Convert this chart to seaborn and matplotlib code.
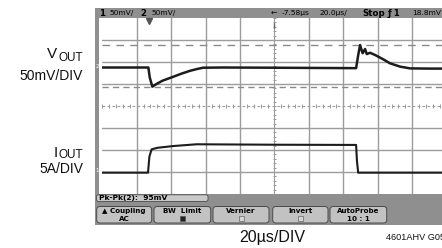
import numpy as np
import pandas as pd
import matplotlib
matplotlib.use("Agg")
import matplotlib.pyplot as plt
from matplotlib.patches import Rectangle, FancyBboxPatch
import seaborn as sns

# ---------------- data (time in microseconds, amplitude in screen divisions) ----------------
v_time_us = [0, 26.8, 27.6, 29.1, 31.5, 35.0, 41.3, 46.0, 51.0, 55.0, 58.5, 70, 100, 147.4,
             148.6, 149.7, 151.2, 152.6, 153.6, 155.5, 158.4, 163.2, 167.1, 172.9, 178.7, 190, 200]
v_div = [1.75, 1.75, 1.30, 0.88, 1.00, 1.15, 1.33, 1.47, 1.60, 1.68, 1.74, 1.75, 1.74, 1.72,
         2.30, 2.77, 2.40, 2.59, 2.36, 2.42, 2.32, 2.12, 1.94, 1.79, 1.71, 1.70, 1.70]
i_time_us = [0, 26.6, 27.4, 28.7, 32.0, 41.3, 54.8, 100, 147.4, 147.9, 148.6, 200]
i_div = [-3.03, -3.03, -2.30, -1.97, -1.90, -1.82, -1.74, -1.76, -1.77, -2.50, -3.03, -3.03]

grid_us = [20, 40, 60, 80, 120, 140, 160, 180]
grid_div = [-3, -2, -1, 1, 2, 3]
cursor_max_div = 2.77
cursor_min_div = 0.88
trigger_us = 27.2

top_bar = [("1", 99, True), ("50mV/", 109, False), ("2", 140, True), ("50mV/", 151, False),
           ("\u2190", 271, False), ("-7.58\u00b5s", 282, False), ("20.0\u00b5s/", 319, False),
           ("Stop", 362, True), ("\u0192 1", 388, True), ("18.8mV", 412, False)]
buttons = [("\u25b2 Coupling", "AC"), ("BW  Limit", "filled"), ("Vernier", "empty"),
           ("Invert", "empty"), ("AutoProbe", "10 : 1")]
button_x = [(96.7, 151.7), (154, 210.7), (213, 269), (272.7, 328), (330, 386.7)]
measure_text = "Pk-Pk(2):  95mV"

# ---------------- figure ----------------
sns.set_style("white")
plt.rcParams['font.family'] = ['Liberation Sans', 'DejaVu Sans']

fig = plt.figure(figsize=(4.42, 2.48), dpi=100)
ov = fig.add_axes([0, 0, 1, 1])
ov.set_xlim(0, 442)
ov.set_ylim(248, 0)
ov.axis('off')
ov.set_zorder(0)

frame = '#8f8f8f'
ov.add_patch(Rectangle((95, 8), 350, 216.5, fc=frame, ec='none'))
ov.add_patch(Rectangle((99, 18), 346, 176, fc='white', ec='none'))

# top bar texts
for txt, x, bold in top_bar:
    ov.text(x, 13.3, txt, fontsize=6.2 if bold else 5.4, family=['DejaVu Sans'],
            fontweight='bold' if bold else 'normal', color='black', ha='left', va='center')

# channel markers on left frame
ov.text(97, 66, "2", fontsize=4, color='white', ha='center', va='center', family=['DejaVu Sans'])
ov.text(97, 171, "1", fontsize=4, color='white', ha='center', va='center', family=['DejaVu Sans'])

# measurement box
ov.add_patch(FancyBboxPatch((96.5, 194.8), 111.5, 6.6, boxstyle='round,pad=0,rounding_size=2',
                            fc='#c9c9c9', ec='#4a4a4a', lw=0.6))
ov.text(99, 198.3, measure_text, fontsize=5.4, fontweight='bold', family=['DejaVu Sans'],
        ha='left', va='center', color='black')

# soft keys
for (l1, l2), (x0, x1) in zip(buttons, button_x):
    ov.add_patch(FancyBboxPatch((x0, 206.5), x1 - x0, 16.5, boxstyle='round,pad=0,rounding_size=3',
                                fc='#c2c2c2', ec='#4a4a4a', lw=0.7))
    xc = (x0 + x1) / 2
    ov.text(xc, 210.6, l1, fontsize=5.1, fontweight='bold', family=['DejaVu Sans'],
            ha='center', va='center', color='black')
    if l2 == 'filled':
        ov.add_patch(Rectangle((xc - 2.5, 216.2), 5, 4.3, fc='#202020', ec='#555', lw=0.5))
    elif l2 == 'empty':
        ov.add_patch(Rectangle((xc - 2.5, 216.2), 5, 4.3, fc='#d4d4d4', ec='#666', lw=0.5))
    else:
        ov.text(xc, 218.6, l2, fontsize=5.1, fontweight='bold', family=['DejaVu Sans'],
                ha='center', va='center', color='black')

# channel labels
lab = dict(color='#111111', ha='right', va='baseline')
ov.text(57.5, 58.3, "V", fontsize=11, **lab)
ov.text(83, 60.7, "OUT", fontsize=8.5, **lab)
ov.text(83, 80, "50mV/DIV", fontsize=10, **lab)
ov.text(58, 156.7, "I", fontsize=11, **lab)
ov.text(83, 158.3, "OUT", fontsize=8.5, **lab)
ov.text(83, 172.7, "5A/DIV", fontsize=10, **lab)
ov.text(272, 242, "20\u00b5s/DIV", fontsize=11.5, color='#111111', ha='center', va='baseline')
ov.text(386, 240, "4601AHV G05", fontsize=6.6, color='#111111', ha='left', va='baseline')

# ---------------- scope screen ----------------
ax = fig.add_axes([102.2 / 442, 54 / 248, 344.5 / 442, 176 / 248])
ax.set_zorder(1)
ax.set_facecolor('white')

gcol = '#9c9c9c'
for t in grid_us:
    ax.axvline(t, color=gcol, lw=1.0, zorder=1)
for d in grid_div:
    ax.axhline(d, color=gcol, lw=1.0, zorder=1)
# center axes with minor ticks
ax.axvline(100, color=gcol, lw=0.8, zorder=1)
ax.axhline(0, color=gcol, lw=0.8, dashes=(2.5, 2.0), zorder=1)
minor_div = np.arange(-4, 4.001, 0.2)
ax.hlines(minor_div, 99.0, 101.0, color=gcol, lw=0.7, zorder=1)
minor_us = np.arange(0, 200.001, 4)
ax.vlines(minor_us, -0.08, 0.08, color=gcol, lw=0.7, zorder=1)

# cursors
ax.axhline(cursor_max_div, color='#8a8a8a', lw=1.0, dashes=(5.5, 4.5), zorder=1)
ax.axhline(cursor_min_div, color='#8a8a8a', lw=1.0, dashes=(4.5, 3.0), zorder=1)

# traces
df_v = pd.DataFrame({'t': v_time_us, 'y': v_div})
df_i = pd.DataFrame({'t': i_time_us, 'y': i_div})
sns.lineplot(data=df_v, x='t', y='y', ax=ax, color='#1c1c1c', lw=1.8,
             estimator=None, sort=False, legend=False, zorder=3)
sns.lineplot(data=df_i, x='t', y='y', ax=ax, color='#1c1c1c', lw=1.5,
             estimator=None, sort=False, legend=False, zorder=3)

# trigger marker
ax.plot([trigger_us], [3.88], marker='v', ms=4, color='#555555', clip_on=False, zorder=4)
ax.plot([100, 100], [3.55, 3.75], color='#666666', lw=1.0, zorder=4)

ax.set_xlim(0, 200)
ax.set_ylim(-4, 4)
ax.set_xlabel('')
ax.set_ylabel('')
ax.set_xticks([])
ax.set_yticks([])
for s in ax.spines.values():
    s.set_visible(False)

fig.savefig('out.png', dpi=100)
